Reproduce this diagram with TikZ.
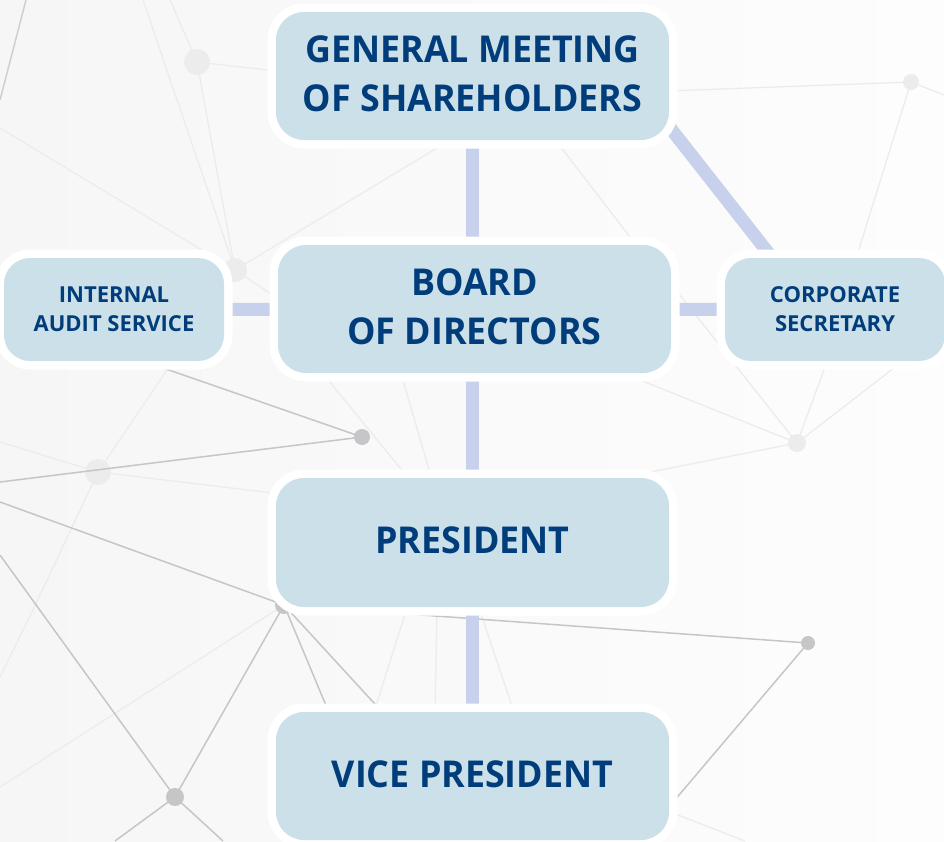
\documentclass[tikz,border=0pt]{standalone}
\usepackage{fontspec}
\setmainfont{Open Sans}
\newfontfamily\headfont{Open Sans}[FakeStretch=0.968]
\usetikzlibrary{calc}

\definecolor{bgleft}{HTML}{F6F6F6}
\definecolor{bgright}{HTML}{FDFDFD}
\definecolor{boxfill}{HTML}{CCE0EA}
\definecolor{textblue}{HTML}{003D7A}
\definecolor{linkcol}{HTML}{C8D1EB}
\definecolor{netdark}{HTML}{C6C6C8}
\definecolor{netlight}{HTML}{ECECEC}

\tikzset{
  orgbox/.style={rounded corners=28pt, fill=boxfill,
    preaction={draw=white, line width=17pt},
    text=textblue, align=center, inner sep=0pt},
  bigbox/.style={orgbox, minimum width=393pt, minimum height=128pt, text depth=4pt,
    font=\headfont\bfseries\fontsize{37pt}{49pt}\selectfont},
  smallbox/.style={orgbox, rounded corners=26pt, minimum width=220pt, minimum height=103pt,
    text depth=-2pt, font=\bfseries\fontsize{22pt}{29pt}\selectfont},
  link/.style={draw=linkcol, line width=13pt},
  netd/.style={draw=netdark, line width=1.5pt},
  netl/.style={draw=netlight, line width=1.3pt},
  dotd/.style={fill=netdark},
  dotl/.style={fill=netlight},
}

\begin{document}
\begin{tikzpicture}[x=1pt, y=-1pt]
  \shade[left color=bgleft, right color=bgright] (0,0) rectangle (944,841);
  \useasboundingbox (0,0) rectangle (944,841);

  % faint background network
  \draw[netl] (170,0) -- (197,62) -- (268,70);
  \draw[netl] (143,0) -- (235,270);
  \draw[netl] (197,62) -- (235,270);
  \draw[netl] (0,128) -- (235,270) -- (470,128);
  \draw[netl] (235,270) -- (280,300);
  \draw[netl] (540,120) -- (640,250);
  \draw[netl] (640,92) -- (911,82) -- (944,95);
  \draw[netl] (911,82) -- (855,262);
  \draw[netl] (660,270) -- (797,443);
  \draw[netl] (620,372) -- (797,443);
  \draw[netl] (835,340) -- (797,443);
  \draw[netl] (930,340) -- (797,443);
  \draw[netl] (600,482) -- (797,443);
  \draw[netl] (167,370) -- (98,472) -- (33,610) -- (0,677);
  \draw[netl] (0,442) -- (98,472) -- (290,495);
  \draw[netl] (0,787) -- (284,605);
  \draw[netl] (320,370) -- (410,480);
  \draw[netl] (400,370) -- (432,480);
  \draw[netl] (408,605) -- (373,715);
  \draw[netl] (437,605) -- (435,715);
  \draw[netl] (478,605) -- (515,715);
  \draw[netl] (660,808) -- (745,841);
  \fill[dotl] (197,62) circle (13);
  \fill[dotl] (235,270) circle (12);
  \fill[dotl] (98,472) circle (13);
  \fill[dotl] (911,82) circle (8);
  \fill[dotl] (797,443) circle (9);

  % darker background network
  \draw[draw=netdark!85, line width=1.5pt] (26,0) -- (0,100);
  \draw[netd] (120,353) -- (362,437) -- (0,482);
  \draw[netd] (0,502) -- (284,605) -- (175,797);
  \draw[netd] (0,555) -- (175,797);
  \draw[netd] (115,841) -- (175,797) -- (223,841);
  \draw[netd] (284,605) -- (330,715);
  \draw[netd] (284,605) -- (385,715);
  \draw[netd] (284,605) -- (808,643) -- (668,808);
  \fill[dotd] (362,437) circle (8);
  \fill[dotd] (175,797) circle (9);
  \fill[dotd] (808,643) circle (7);
  \fill[dotd] (284,605) circle (9);

  % box centres
  \path
    coordinate (pgms) at (472.5,76)
    coordinate (pbod) at (474.5,309)
    coordinate (pias) at (114,309.5)
    coordinate (pcs)  at (835,309.5)
    coordinate (ppre) at (472.5,542.5)
    coordinate (pvp)  at (472.5,776);

  % links
  \draw[link] (pgms) -- (pgms |- pbod);
  \draw[link] (pbod -| ppre) -- (ppre);
  \draw[link] (ppre) -- (pvp);
  \draw[link] (pias) -- (pbod);
  \draw[link] (pbod) -- (pcs);
  \draw[link] ($(pgms)+(191.5,44)$) -- ($(pcs)+(-56,-43)$);

  % boxes
  \node[bigbox]   (gms) at (pgms) {GENERAL MEETING\\OF SHAREHOLDERS};
  \node[bigbox]   (bod) at (pbod) {BOARD\\OF DIRECTORS};
  \node[smallbox] (ias) at (pias) {INTERNAL\\AUDIT SERVICE};
  \node[smallbox] (cs)  at (pcs)  {CORPORATE\\SECRETARY};
  \node[bigbox, minimum height=129pt] (pre) at (ppre) {PRESIDENT};
  \node[bigbox]   (vp)  at (pvp)  {VICE PRESIDENT};
\end{tikzpicture}
\end{document}
